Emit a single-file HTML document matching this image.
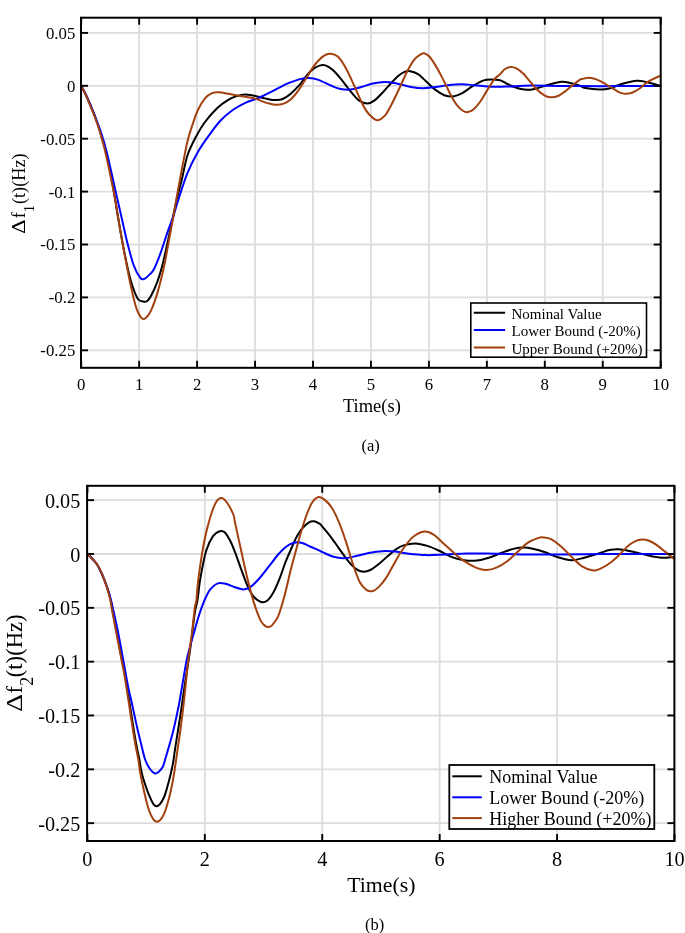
<!DOCTYPE html>
<html><head><meta charset="utf-8"><style>
html,body{margin:0;padding:0;background:#fff;}
body{width:685px;height:933px;overflow:hidden;}
svg{display:block;will-change:transform;font-family:"Liberation Serif",serif;}
text{fill:#000;}
</style></head><body>
<svg width="685" height="933" viewBox="0 0 685 933">
<rect width="685" height="933" fill="#fff"/>
<line x1="139.15" y1="17.70" x2="139.15" y2="367.80" stroke="#dddddd" stroke-width="1.8"/>
<line x1="197.10" y1="17.70" x2="197.10" y2="367.80" stroke="#dddddd" stroke-width="1.8"/>
<line x1="255.05" y1="17.70" x2="255.05" y2="367.80" stroke="#dddddd" stroke-width="1.8"/>
<line x1="313.00" y1="17.70" x2="313.00" y2="367.80" stroke="#dddddd" stroke-width="1.8"/>
<line x1="370.95" y1="17.70" x2="370.95" y2="367.80" stroke="#dddddd" stroke-width="1.8"/>
<line x1="428.90" y1="17.70" x2="428.90" y2="367.80" stroke="#dddddd" stroke-width="1.8"/>
<line x1="486.85" y1="17.70" x2="486.85" y2="367.80" stroke="#dddddd" stroke-width="1.8"/>
<line x1="544.80" y1="17.70" x2="544.80" y2="367.80" stroke="#dddddd" stroke-width="1.8"/>
<line x1="602.75" y1="17.70" x2="602.75" y2="367.80" stroke="#dddddd" stroke-width="1.8"/>
<line x1="81.00" y1="32.90" x2="660.70" y2="32.90" stroke="#dddddd" stroke-width="1.8"/>
<line x1="81.00" y1="85.80" x2="660.70" y2="85.80" stroke="#dddddd" stroke-width="1.8"/>
<line x1="81.00" y1="138.70" x2="660.70" y2="138.70" stroke="#dddddd" stroke-width="1.8"/>
<line x1="81.00" y1="191.60" x2="660.70" y2="191.60" stroke="#dddddd" stroke-width="1.8"/>
<line x1="81.00" y1="244.50" x2="660.70" y2="244.50" stroke="#dddddd" stroke-width="1.8"/>
<line x1="81.00" y1="297.40" x2="660.70" y2="297.40" stroke="#dddddd" stroke-width="1.8"/>
<line x1="81.00" y1="350.30" x2="660.70" y2="350.30" stroke="#dddddd" stroke-width="1.8"/>
<path d="M81.20,85.80 C82.00,87.33 84.37,91.55 86.00,95.00 C87.63,98.45 89.33,102.50 91.00,106.50 C92.67,110.50 94.15,113.67 96.00,119.00 C97.85,124.33 100.18,132.17 102.10,138.50 C104.02,144.83 105.55,148.20 107.50,157.00 C109.45,165.80 112.13,181.80 113.80,191.30 C115.47,200.80 115.77,203.95 117.50,214.00 C119.23,224.05 121.97,240.42 124.20,251.60 C126.43,262.78 128.67,273.28 130.90,281.10 C133.13,288.92 135.58,295.10 137.60,298.50 C139.62,301.90 141.43,301.05 143.00,301.50 C144.57,301.95 145.65,302.15 147.00,301.20 C148.35,300.25 149.35,299.12 151.10,295.80 C152.85,292.48 155.62,286.40 157.50,281.30 C159.38,276.20 160.78,271.37 162.40,265.20 C164.02,259.03 165.60,251.53 167.20,244.30 C168.80,237.07 170.40,229.30 172.00,221.80 C173.60,214.30 175.18,206.27 176.80,199.30 C178.42,192.33 179.92,187.33 181.70,180.00 C183.48,172.67 185.07,162.62 187.50,155.30 C189.93,147.98 193.38,141.65 196.30,136.10 C199.22,130.55 201.50,126.68 205.00,122.00 C208.50,117.32 213.50,111.65 217.30,108.00 C221.10,104.35 224.58,102.08 227.80,100.10 C231.02,98.12 233.68,97.05 236.60,96.10 C239.52,95.15 242.38,94.45 245.30,94.40 C248.22,94.35 250.82,95.13 254.10,95.80 C257.38,96.47 262.35,97.77 265.00,98.40 C267.65,99.03 268.25,99.32 270.00,99.60 C271.75,99.88 273.40,100.20 275.50,100.10 C277.60,100.00 280.07,100.07 282.60,99.00 C285.13,97.93 287.80,96.15 290.70,93.70 C293.60,91.25 297.28,87.38 300.00,84.30 C302.72,81.22 304.78,77.77 307.00,75.20 C309.22,72.63 311.08,70.53 313.30,68.90 C315.52,67.27 318.27,65.98 320.30,65.40 C322.33,64.82 323.45,64.67 325.50,65.40 C327.55,66.13 329.97,67.47 332.60,69.80 C335.23,72.13 338.38,75.90 341.30,79.40 C344.22,82.90 347.18,87.30 350.10,90.80 C353.02,94.30 355.88,98.30 358.80,100.40 C361.72,102.50 364.97,103.40 367.60,103.40 C370.23,103.40 371.97,102.35 374.60,100.40 C377.23,98.45 380.48,94.77 383.40,91.70 C386.32,88.63 389.58,84.67 392.10,82.00 C394.62,79.33 396.52,77.35 398.50,75.70 C400.48,74.05 402.07,72.85 404.00,72.10 C405.93,71.35 407.77,70.85 410.10,71.20 C412.43,71.55 415.22,72.40 418.00,74.20 C420.78,76.00 423.88,79.38 426.80,82.00 C429.72,84.62 432.58,87.70 435.50,89.90 C438.42,92.10 441.37,94.12 444.30,95.20 C447.23,96.28 450.18,96.70 453.10,96.40 C456.02,96.10 458.60,95.07 461.80,93.40 C465.00,91.73 468.78,88.53 472.30,86.40 C475.82,84.27 479.68,81.77 482.90,80.60 C486.12,79.43 488.75,79.45 491.60,79.40 C494.45,79.35 497.68,79.70 500.00,80.30 C502.32,80.90 503.55,82.05 505.50,83.00 C507.45,83.95 509.12,84.98 511.70,86.00 C514.28,87.02 518.08,88.47 521.00,89.10 C523.92,89.73 526.28,90.00 529.20,89.80 C532.12,89.60 535.00,88.83 538.50,87.90 C542.00,86.97 546.30,85.22 550.20,84.20 C554.10,83.18 558.60,82.02 561.90,81.80 C565.20,81.58 566.98,82.27 570.00,82.90 C573.02,83.53 577.65,84.80 580.00,85.60 C582.35,86.40 580.78,87.03 584.10,87.70 C587.42,88.37 595.52,89.52 599.90,89.60 C604.28,89.68 606.80,89.13 610.40,88.20 C614.00,87.27 617.05,85.23 621.50,84.00 C625.95,82.77 632.65,81.05 637.10,80.80 C641.55,80.55 644.30,81.65 648.20,82.50 C652.10,83.35 658.45,85.33 660.50,85.90" fill="none" stroke="#000000" stroke-width="2" stroke-linejoin="round" stroke-linecap="round"/>
<path d="M81.20,85.80 C82.00,87.33 84.37,91.55 86.00,95.00 C87.63,98.45 89.33,102.50 91.00,106.50 C92.67,110.50 94.27,114.48 96.00,119.00 C97.73,123.52 99.60,128.03 101.40,133.60 C103.20,139.17 104.78,144.35 106.80,152.40 C108.82,160.45 111.27,172.07 113.50,181.90 C115.73,191.73 117.97,201.57 120.20,211.40 C122.43,221.23 124.67,231.97 126.90,240.90 C129.13,249.83 131.37,258.83 133.60,265.00 C135.83,271.17 138.52,275.58 140.30,277.90 C142.08,280.22 142.73,279.48 144.30,278.90 C145.87,278.32 148.03,276.13 149.70,274.40 C151.37,272.67 152.45,272.17 154.30,268.50 C156.15,264.83 158.65,258.30 160.80,252.40 C162.95,246.50 165.07,239.27 167.20,233.10 C169.33,226.93 171.72,221.05 173.60,215.40 C175.48,209.75 176.18,206.28 178.50,199.20 C180.82,192.12 184.25,180.80 187.50,172.90 C190.75,165.00 194.50,157.93 198.00,151.80 C201.50,145.67 204.70,141.35 208.50,136.10 C212.30,130.85 216.70,124.68 220.80,120.30 C224.90,115.92 229.02,112.72 233.10,109.80 C237.18,106.88 241.22,104.70 245.30,102.80 C249.38,100.90 254.32,99.72 257.60,98.40 C260.88,97.08 261.82,96.47 265.00,94.90 C268.18,93.33 272.80,90.95 276.70,89.00 C280.60,87.05 284.52,84.85 288.40,83.20 C292.28,81.55 296.57,79.98 300.00,79.10 C303.43,78.22 305.92,77.77 309.00,77.90 C312.08,78.03 314.87,78.63 318.50,79.90 C322.13,81.17 327.28,84.03 330.80,85.50 C334.32,86.97 336.38,88.02 339.60,88.70 C342.82,89.38 346.60,89.83 350.10,89.60 C353.60,89.37 356.80,88.33 360.60,87.30 C364.40,86.27 368.82,84.28 372.90,83.40 C376.98,82.52 381.60,82.08 385.10,82.00 C388.60,81.92 391.50,82.55 393.90,82.90 C396.30,83.25 396.65,83.42 399.50,84.10 C402.35,84.78 407.03,86.32 411.00,87.00 C414.97,87.68 419.22,88.20 423.30,88.20 C427.38,88.20 431.42,87.50 435.50,87.00 C439.58,86.50 443.42,85.65 447.80,85.20 C452.18,84.75 457.42,84.30 461.80,84.30 C466.18,84.30 469.72,84.82 474.10,85.20 C478.48,85.58 484.02,86.33 488.10,86.60 C492.18,86.87 494.95,86.83 498.60,86.80 C502.25,86.77 504.77,86.60 510.00,86.40 C515.23,86.20 521.67,85.68 530.00,85.60 C538.33,85.52 548.33,85.80 560.00,85.90 C571.67,86.00 588.33,86.18 600.00,86.20 C611.67,86.22 619.92,86.03 630.00,86.00 C640.08,85.97 655.42,86.00 660.50,86.00" fill="none" stroke="#0000ff" stroke-width="2" stroke-linejoin="round" stroke-linecap="round"/>
<path d="M81.20,85.80 C82.00,87.42 84.42,92.00 86.00,95.50 C87.58,99.00 89.23,103.22 90.70,106.80 C92.17,110.38 93.45,113.42 94.80,117.00 C96.15,120.58 97.25,123.30 98.80,128.30 C100.35,133.30 102.32,139.85 104.10,147.00 C105.88,154.15 107.70,162.70 109.50,171.20 C111.30,179.70 113.12,188.18 114.90,198.00 C116.68,207.82 118.42,219.83 120.20,230.10 C121.98,240.37 123.82,250.22 125.60,259.60 C127.38,268.98 129.12,278.35 130.90,286.40 C132.68,294.45 134.50,302.62 136.30,307.90 C138.10,313.18 140.13,316.40 141.70,318.10 C143.27,319.80 144.13,319.40 145.70,318.10 C147.27,316.80 149.13,314.55 151.10,310.30 C153.07,306.05 155.35,299.85 157.50,292.60 C159.65,285.35 162.12,275.38 164.00,266.80 C165.88,258.22 167.20,249.67 168.80,241.10 C170.40,232.53 172.18,223.25 173.60,215.40 C175.02,207.55 176.15,200.50 177.30,194.00 C178.45,187.50 178.80,185.18 180.50,176.40 C182.20,167.62 185.45,150.07 187.50,141.30 C189.55,132.53 191.05,129.05 192.80,123.80 C194.55,118.55 195.97,114.03 198.00,109.80 C200.03,105.57 202.67,101.18 205.00,98.40 C207.33,95.62 209.67,94.12 212.00,93.10 C214.33,92.08 216.07,92.15 219.00,92.30 C221.93,92.45 225.50,93.28 229.60,94.00 C233.70,94.72 239.23,95.78 243.60,96.60 C247.97,97.42 252.23,97.93 255.80,98.90 C259.37,99.87 262.47,101.57 265.00,102.40 C267.53,103.23 269.05,103.50 271.00,103.90 C272.95,104.30 274.58,104.85 276.70,104.80 C278.82,104.75 281.37,104.48 283.70,103.60 C286.03,102.72 288.37,101.53 290.70,99.50 C293.03,97.47 295.37,94.52 297.70,91.40 C300.03,88.28 302.88,83.62 304.70,80.80 C306.52,77.98 306.88,77.22 308.60,74.50 C310.32,71.78 312.47,67.62 315.00,64.50 C317.53,61.38 321.17,57.60 323.80,55.80 C326.43,54.00 328.47,53.57 330.80,53.70 C333.13,53.83 335.47,54.50 337.80,56.60 C340.13,58.70 342.47,62.35 344.80,66.30 C347.13,70.25 349.47,75.33 351.80,80.30 C354.13,85.27 356.47,91.13 358.80,96.10 C361.13,101.07 363.45,106.45 365.80,110.10 C368.15,113.75 370.85,116.32 372.90,118.00 C374.95,119.68 376.07,120.65 378.10,120.20 C380.13,119.75 382.95,117.75 385.10,115.30 C387.25,112.85 388.63,109.97 391.00,105.50 C393.37,101.03 396.55,94.30 399.30,88.50 C402.05,82.70 404.97,75.57 407.50,70.70 C410.03,65.83 412.42,61.93 414.50,59.30 C416.58,56.67 418.40,55.90 420.00,54.90 C421.60,53.90 422.55,53.03 424.10,53.30 C425.65,53.57 427.45,54.57 429.30,56.50 C431.15,58.43 433.25,61.75 435.20,64.90 C437.15,68.05 439.15,71.90 441.00,75.40 C442.85,78.90 444.55,82.40 446.30,85.90 C448.05,89.40 449.65,93.10 451.50,96.40 C453.35,99.70 455.45,103.27 457.40,105.70 C459.35,108.13 461.45,109.93 463.20,111.00 C464.95,112.07 466.15,112.40 467.90,112.10 C469.65,111.80 471.57,111.05 473.70,109.20 C475.83,107.35 478.37,104.30 480.70,101.00 C483.03,97.70 485.37,93.08 487.70,89.40 C490.03,85.72 492.65,81.42 494.70,78.90 C496.75,76.38 498.33,75.92 500.00,74.30 C501.67,72.68 502.95,70.43 504.70,69.20 C506.45,67.97 508.55,67.03 510.50,66.90 C512.45,66.77 514.25,67.27 516.40,68.40 C518.55,69.53 521.07,71.45 523.40,73.70 C525.73,75.95 528.07,79.18 530.40,81.90 C532.73,84.62 535.07,87.77 537.40,90.00 C539.73,92.23 542.27,94.10 544.40,95.30 C546.53,96.50 548.07,97.03 550.20,97.20 C552.33,97.37 554.67,97.30 557.20,96.30 C559.73,95.30 562.87,93.02 565.40,91.20 C567.93,89.38 569.97,87.32 572.40,85.40 C574.83,83.48 578.35,80.78 580.00,79.70 C581.65,78.62 580.75,79.23 582.30,78.90 C583.85,78.57 586.95,77.62 589.30,77.70 C591.65,77.78 593.77,78.38 596.40,79.40 C599.03,80.42 602.18,82.18 605.10,83.80 C608.02,85.42 611.42,87.63 613.90,89.10 C616.38,90.57 618.20,91.83 620.00,92.60 C621.80,93.37 622.68,93.67 624.70,93.70 C626.72,93.73 629.62,93.67 632.10,92.80 C634.58,91.93 636.92,90.37 639.60,88.50 C642.28,86.63 644.72,83.75 648.20,81.60 C651.68,79.45 658.45,76.60 660.50,75.60" fill="none" stroke="#a2410f" stroke-width="2" stroke-linejoin="round" stroke-linecap="round"/>
<line x1="81.20" y1="367.80" x2="81.20" y2="360.80" stroke="#000" stroke-width="1.9"/>
<line x1="81.20" y1="17.70" x2="81.20" y2="24.70" stroke="#000" stroke-width="1.9"/>
<line x1="139.15" y1="367.80" x2="139.15" y2="360.80" stroke="#000" stroke-width="1.9"/>
<line x1="139.15" y1="17.70" x2="139.15" y2="24.70" stroke="#000" stroke-width="1.9"/>
<line x1="197.10" y1="367.80" x2="197.10" y2="360.80" stroke="#000" stroke-width="1.9"/>
<line x1="197.10" y1="17.70" x2="197.10" y2="24.70" stroke="#000" stroke-width="1.9"/>
<line x1="255.05" y1="367.80" x2="255.05" y2="360.80" stroke="#000" stroke-width="1.9"/>
<line x1="255.05" y1="17.70" x2="255.05" y2="24.70" stroke="#000" stroke-width="1.9"/>
<line x1="313.00" y1="367.80" x2="313.00" y2="360.80" stroke="#000" stroke-width="1.9"/>
<line x1="313.00" y1="17.70" x2="313.00" y2="24.70" stroke="#000" stroke-width="1.9"/>
<line x1="370.95" y1="367.80" x2="370.95" y2="360.80" stroke="#000" stroke-width="1.9"/>
<line x1="370.95" y1="17.70" x2="370.95" y2="24.70" stroke="#000" stroke-width="1.9"/>
<line x1="428.90" y1="367.80" x2="428.90" y2="360.80" stroke="#000" stroke-width="1.9"/>
<line x1="428.90" y1="17.70" x2="428.90" y2="24.70" stroke="#000" stroke-width="1.9"/>
<line x1="486.85" y1="367.80" x2="486.85" y2="360.80" stroke="#000" stroke-width="1.9"/>
<line x1="486.85" y1="17.70" x2="486.85" y2="24.70" stroke="#000" stroke-width="1.9"/>
<line x1="544.80" y1="367.80" x2="544.80" y2="360.80" stroke="#000" stroke-width="1.9"/>
<line x1="544.80" y1="17.70" x2="544.80" y2="24.70" stroke="#000" stroke-width="1.9"/>
<line x1="602.75" y1="367.80" x2="602.75" y2="360.80" stroke="#000" stroke-width="1.9"/>
<line x1="602.75" y1="17.70" x2="602.75" y2="24.70" stroke="#000" stroke-width="1.9"/>
<line x1="660.70" y1="367.80" x2="660.70" y2="360.80" stroke="#000" stroke-width="1.9"/>
<line x1="660.70" y1="17.70" x2="660.70" y2="24.70" stroke="#000" stroke-width="1.9"/>
<line x1="81.00" y1="32.90" x2="88.00" y2="32.90" stroke="#000" stroke-width="1.9"/>
<line x1="660.70" y1="32.90" x2="653.70" y2="32.90" stroke="#000" stroke-width="1.9"/>
<line x1="81.00" y1="85.80" x2="88.00" y2="85.80" stroke="#000" stroke-width="1.9"/>
<line x1="660.70" y1="85.80" x2="653.70" y2="85.80" stroke="#000" stroke-width="1.9"/>
<line x1="81.00" y1="138.70" x2="88.00" y2="138.70" stroke="#000" stroke-width="1.9"/>
<line x1="660.70" y1="138.70" x2="653.70" y2="138.70" stroke="#000" stroke-width="1.9"/>
<line x1="81.00" y1="191.60" x2="88.00" y2="191.60" stroke="#000" stroke-width="1.9"/>
<line x1="660.70" y1="191.60" x2="653.70" y2="191.60" stroke="#000" stroke-width="1.9"/>
<line x1="81.00" y1="244.50" x2="88.00" y2="244.50" stroke="#000" stroke-width="1.9"/>
<line x1="660.70" y1="244.50" x2="653.70" y2="244.50" stroke="#000" stroke-width="1.9"/>
<line x1="81.00" y1="297.40" x2="88.00" y2="297.40" stroke="#000" stroke-width="1.9"/>
<line x1="660.70" y1="297.40" x2="653.70" y2="297.40" stroke="#000" stroke-width="1.9"/>
<line x1="81.00" y1="350.30" x2="88.00" y2="350.30" stroke="#000" stroke-width="1.9"/>
<line x1="660.70" y1="350.30" x2="653.70" y2="350.30" stroke="#000" stroke-width="1.9"/>
<rect x="81.00" y="17.70" width="579.70" height="350.10" fill="none" stroke="#000" stroke-width="2"/>
<text x="75.30" y="38.80" font-size="16.8" text-anchor="end">0.05</text>
<text x="75.30" y="91.70" font-size="16.8" text-anchor="end">0</text>
<text x="75.30" y="144.60" font-size="16.8" text-anchor="end">-0.05</text>
<text x="75.30" y="197.50" font-size="16.8" text-anchor="end">-0.1</text>
<text x="75.30" y="250.40" font-size="16.8" text-anchor="end">-0.15</text>
<text x="75.30" y="303.30" font-size="16.8" text-anchor="end">-0.2</text>
<text x="75.30" y="356.20" font-size="16.8" text-anchor="end">-0.25</text>
<text x="81.20" y="389.70" font-size="16.8" text-anchor="middle">0</text>
<text x="139.15" y="389.70" font-size="16.8" text-anchor="middle">1</text>
<text x="197.10" y="389.70" font-size="16.8" text-anchor="middle">2</text>
<text x="255.05" y="389.70" font-size="16.8" text-anchor="middle">3</text>
<text x="313.00" y="389.70" font-size="16.8" text-anchor="middle">4</text>
<text x="370.95" y="389.70" font-size="16.8" text-anchor="middle">5</text>
<text x="428.90" y="389.70" font-size="16.8" text-anchor="middle">6</text>
<text x="486.85" y="389.70" font-size="16.8" text-anchor="middle">7</text>
<text x="544.80" y="389.70" font-size="16.8" text-anchor="middle">8</text>
<text x="602.75" y="389.70" font-size="16.8" text-anchor="middle">9</text>
<text x="660.70" y="389.70" font-size="16.8" text-anchor="middle">10</text>
<text x="371.9" y="411.9" font-size="18.5" text-anchor="middle">Time(s)</text>
<g transform="translate(25.2,0) rotate(-90)">
<text transform="translate(-232.80,0) scale(1.1361,1)" x="-0.74" y="0" font-size="19.55">&#916;</text>
<text x="-218.30" y="0" font-size="18.3">f</text>
<text x="-212.30" y="8.5" font-size="14.5">1</text>
<text x="-204.10" y="0" font-size="18.3">(t)(Hz)</text>
</g>
<text x="370.6" y="451.2" font-size="16.5" text-anchor="middle">(a)</text>
<rect x="470.8" y="303" width="175.70" height="54.20" fill="#fff" stroke="#000" stroke-width="1.6"/>
<line x1="473.8" y1="312.8" x2="505.1" y2="312.8" stroke="#000000" stroke-width="2"/>
<text x="511.5" y="319.10" font-size="15">Nominal Value</text>
<line x1="473.8" y1="330" x2="505.1" y2="330" stroke="#0000ff" stroke-width="2"/>
<text x="511.5" y="336.30" font-size="15">Lower Bound (-20%)</text>
<line x1="473.8" y1="347.6" x2="505.1" y2="347.6" stroke="#a2410f" stroke-width="2"/>
<text x="511.5" y="353.90" font-size="15">Upper Bound (+20%)</text>
<line x1="204.82" y1="485.80" x2="204.82" y2="841.00" stroke="#dddddd" stroke-width="1.8"/>
<line x1="322.24" y1="485.80" x2="322.24" y2="841.00" stroke="#dddddd" stroke-width="1.8"/>
<line x1="439.66" y1="485.80" x2="439.66" y2="841.00" stroke="#dddddd" stroke-width="1.8"/>
<line x1="557.08" y1="485.80" x2="557.08" y2="841.00" stroke="#dddddd" stroke-width="1.8"/>
<line x1="87.10" y1="500.17" x2="674.40" y2="500.17" stroke="#dddddd" stroke-width="1.8"/>
<line x1="87.10" y1="554.00" x2="674.40" y2="554.00" stroke="#dddddd" stroke-width="1.8"/>
<line x1="87.10" y1="607.83" x2="674.40" y2="607.83" stroke="#dddddd" stroke-width="1.8"/>
<line x1="87.10" y1="661.66" x2="674.40" y2="661.66" stroke="#dddddd" stroke-width="1.8"/>
<line x1="87.10" y1="715.49" x2="674.40" y2="715.49" stroke="#dddddd" stroke-width="1.8"/>
<line x1="87.10" y1="769.32" x2="674.40" y2="769.32" stroke="#dddddd" stroke-width="1.8"/>
<line x1="87.10" y1="823.15" x2="674.40" y2="823.15" stroke="#dddddd" stroke-width="1.8"/>
<path d="M87.50,554.00 C88.42,554.92 91.25,557.50 93.00,559.50 C94.75,561.50 96.33,563.17 98.00,566.00 C99.67,568.83 101.53,573.08 103.00,576.50 C104.47,579.92 105.52,582.58 106.80,586.50 C108.08,590.42 109.00,592.00 110.70,600.00 C112.40,608.00 115.05,624.17 117.00,634.50 C118.95,644.83 120.90,654.33 122.40,662.00 C123.90,669.67 124.48,671.60 126.00,680.50 C127.52,689.40 129.83,704.98 131.50,715.40 C133.17,725.82 134.67,735.57 136.00,743.00 C137.33,750.43 138.68,755.67 139.50,760.00 C140.32,764.33 140.27,765.87 140.90,769.00 C141.53,772.13 142.03,774.67 143.30,778.80 C144.57,782.93 146.75,789.48 148.50,793.80 C150.25,798.12 152.12,802.77 153.80,804.70 C155.48,806.63 156.92,806.60 158.60,805.40 C160.28,804.20 162.45,800.57 163.90,797.50 C165.35,794.43 166.12,791.12 167.30,787.00 C168.48,782.88 170.00,777.05 171.00,772.80 C172.00,768.55 172.63,765.40 173.30,761.50 C173.97,757.60 173.82,757.13 175.00,749.40 C176.18,741.67 178.65,726.67 180.40,715.10 C182.15,703.53 183.90,690.73 185.50,680.00 C187.10,669.27 188.48,661.70 190.00,650.70 C191.52,639.70 193.35,622.45 194.60,614.00 C195.85,605.55 196.53,606.00 197.50,600.00 C198.47,594.00 198.95,586.22 200.40,578.00 C201.85,569.78 204.10,557.68 206.20,550.70 C208.30,543.72 210.75,539.33 213.00,536.10 C215.25,532.87 217.77,531.93 219.70,531.30 C221.63,530.67 222.83,530.68 224.60,532.30 C226.37,533.92 228.57,537.70 230.30,541.00 C232.03,544.30 233.18,547.38 235.00,552.10 C236.82,556.82 239.15,563.75 241.20,569.30 C243.25,574.85 245.25,580.87 247.30,585.40 C249.35,589.93 251.23,593.73 253.50,596.50 C255.77,599.27 258.63,601.28 260.90,602.00 C263.17,602.72 265.05,602.33 267.10,600.80 C269.15,599.27 271.15,596.40 273.20,592.80 C275.25,589.20 277.33,584.35 279.40,579.20 C281.47,574.05 283.53,567.18 285.60,561.90 C287.67,556.62 290.05,551.50 291.80,547.50 C293.55,543.50 294.50,540.93 296.10,537.90 C297.70,534.87 299.25,531.90 301.40,529.30 C303.55,526.70 306.85,523.63 309.00,522.30 C311.15,520.97 312.47,521.02 314.30,521.30 C316.13,521.58 318.83,523.33 320.00,524.00 C321.17,524.67 319.63,523.33 321.30,525.30 C322.97,527.27 327.08,532.00 330.00,535.80 C332.92,539.60 335.87,544.02 338.80,548.10 C341.73,552.18 344.68,556.80 347.60,560.30 C350.52,563.80 353.68,567.20 356.30,569.10 C358.92,571.00 360.97,571.55 363.30,571.70 C365.63,571.85 367.67,571.32 370.30,570.00 C372.93,568.68 376.17,566.13 379.10,563.80 C382.03,561.47 384.98,558.48 387.90,556.00 C390.82,553.52 393.98,550.67 396.60,548.90 C399.22,547.13 400.50,546.32 403.60,545.40 C406.70,544.48 411.22,543.32 415.20,543.40 C419.18,543.48 423.42,544.63 427.50,545.90 C431.58,547.17 435.62,549.13 439.70,551.00 C443.78,552.87 447.90,555.57 452.00,557.10 C456.10,558.63 460.22,559.62 464.30,560.20 C468.38,560.78 472.42,561.02 476.50,560.60 C480.58,560.18 484.70,558.97 488.80,557.70 C492.90,556.43 497.02,554.47 501.10,553.00 C505.18,551.53 509.57,549.82 513.30,548.90 C517.03,547.98 520.08,547.50 523.50,547.50 C526.92,547.50 530.20,548.12 533.80,548.90 C537.40,549.68 541.15,550.83 545.10,552.20 C549.05,553.57 553.05,555.77 557.50,557.10 C561.95,558.43 567.38,560.10 571.80,560.20 C576.22,560.30 579.30,558.90 584.00,557.70 C588.70,556.50 595.78,554.27 600.00,553.00 C604.22,551.73 606.18,550.72 609.30,550.10 C612.42,549.48 615.38,549.17 618.70,549.30 C622.02,549.43 625.50,550.18 629.20,550.90 C632.90,551.62 637.00,552.67 640.90,553.60 C644.80,554.53 649.10,555.82 652.60,556.50 C656.10,557.18 658.33,557.62 661.90,557.70 C665.47,557.78 671.98,557.12 674.00,557.00" fill="none" stroke="#000000" stroke-width="2" stroke-linejoin="round" stroke-linecap="round"/>
<path d="M87.50,554.00 C88.42,554.92 91.25,557.50 93.00,559.50 C94.75,561.50 96.33,563.17 98.00,566.00 C99.67,568.83 101.53,573.08 103.00,576.50 C104.47,579.92 105.50,582.67 106.80,586.50 C108.10,590.33 109.00,592.25 110.80,599.50 C112.60,606.75 115.47,619.60 117.60,630.00 C119.73,640.40 121.80,652.23 123.60,661.90 C125.40,671.57 127.13,681.65 128.40,688.00 C129.67,694.35 130.18,695.42 131.20,700.00 C132.22,704.58 133.42,710.50 134.50,715.50 C135.58,720.50 136.62,725.33 137.70,730.00 C138.78,734.67 139.73,738.50 141.00,743.50 C142.27,748.50 143.80,755.75 145.30,760.00 C146.80,764.25 148.40,766.75 150.00,769.00 C151.60,771.25 153.40,773.07 154.90,773.50 C156.40,773.93 157.68,772.72 159.00,771.60 C160.32,770.48 161.80,768.73 162.80,766.80 C163.80,764.87 164.22,762.55 165.00,760.00 C165.78,757.45 166.18,756.13 167.50,751.50 C168.82,746.87 171.40,738.03 172.90,732.20 C174.40,726.37 175.35,721.87 176.50,716.50 C177.65,711.13 178.17,709.10 179.80,700.00 C181.43,690.90 184.52,671.07 186.30,661.90 C188.08,652.73 189.17,650.07 190.50,645.00 C191.83,639.93 193.05,635.92 194.30,631.50 C195.55,627.08 196.65,622.85 198.00,618.50 C199.35,614.15 201.03,609.07 202.40,605.40 C203.77,601.73 204.92,599.13 206.20,596.50 C207.48,593.87 208.17,591.78 210.10,589.60 C212.03,587.42 215.23,584.37 217.80,583.40 C220.37,582.43 222.63,583.17 225.50,583.80 C228.37,584.43 232.58,586.37 235.00,587.20 C237.42,588.03 238.35,588.45 240.00,588.80 C241.65,589.15 243.07,589.67 244.90,589.30 C246.73,588.93 248.53,588.48 251.00,586.60 C253.47,584.72 256.62,581.50 259.70,578.00 C262.78,574.50 266.42,569.52 269.50,565.60 C272.58,561.68 275.38,557.68 278.20,554.50 C281.02,551.32 283.78,548.47 286.40,546.50 C289.02,544.53 291.40,543.33 293.90,542.70 C296.40,542.07 298.72,542.07 301.40,542.70 C304.08,543.33 306.90,545.15 310.00,546.50 C313.10,547.85 317.83,549.82 320.00,550.80 C322.17,551.78 320.75,551.40 323.00,552.40 C325.25,553.40 330.00,555.83 333.50,556.80 C337.00,557.77 340.20,558.33 344.00,558.20 C347.80,558.07 352.20,556.87 356.30,556.00 C360.40,555.13 364.22,553.80 368.60,553.00 C372.98,552.20 378.22,551.43 382.60,551.20 C386.98,550.97 391.10,551.25 394.90,551.60 C398.70,551.95 400.32,552.72 405.40,553.30 C410.48,553.88 418.65,554.90 425.40,555.10 C432.15,555.30 439.08,554.75 445.90,554.50 C452.72,554.25 459.50,553.75 466.30,553.60 C473.10,553.45 479.88,553.53 486.70,553.60 C493.52,553.67 500.38,553.85 507.20,554.00 C514.02,554.15 518.80,554.42 527.60,554.50 C536.40,554.58 547.93,554.58 560.00,554.50 C572.07,554.42 586.67,554.08 600.00,554.00 C613.33,553.92 627.67,554.00 640.00,554.00 C652.33,554.00 668.33,554.00 674.00,554.00" fill="none" stroke="#0000ff" stroke-width="2" stroke-linejoin="round" stroke-linecap="round"/>
<path d="M87.50,554.00 C88.33,554.83 90.77,557.05 92.50,559.00 C94.23,560.95 96.15,562.78 97.90,565.70 C99.65,568.62 101.55,573.03 103.00,576.50 C104.45,579.97 105.38,582.58 106.60,586.50 C107.82,590.42 109.47,596.47 110.30,600.00 C111.13,603.53 110.55,602.03 111.60,607.70 C112.65,613.37 114.88,625.00 116.60,634.00 C118.32,643.00 120.45,654.03 121.90,661.70 C123.35,669.37 123.83,671.05 125.30,680.00 C126.77,688.95 129.08,704.98 130.70,715.40 C132.32,725.82 133.72,735.07 135.00,742.50 C136.28,749.93 137.63,755.58 138.40,760.00 C139.17,764.42 139.03,765.50 139.60,769.00 C140.17,772.50 140.43,774.75 141.80,781.00 C143.17,787.25 145.87,800.12 147.80,806.50 C149.73,812.88 151.60,816.85 153.40,819.30 C155.20,821.75 156.78,822.20 158.60,821.20 C160.42,820.20 162.60,817.00 164.30,813.30 C166.00,809.60 167.43,804.13 168.80,799.00 C170.17,793.87 171.50,787.50 172.50,782.50 C173.50,777.50 173.97,774.42 174.80,769.00 C175.63,763.58 176.57,756.48 177.50,750.00 C178.43,743.52 179.30,738.43 180.40,730.10 C181.50,721.77 182.82,711.37 184.10,700.00 C185.38,688.63 186.77,673.22 188.10,661.90 C189.43,650.58 190.98,641.13 192.10,632.10 C193.22,623.07 194.08,613.05 194.80,607.70 C195.52,602.35 195.78,604.95 196.40,600.00 C197.02,595.05 197.18,587.83 198.50,578.00 C199.82,568.17 202.37,551.03 204.30,541.00 C206.23,530.97 208.17,524.23 210.10,517.80 C212.03,511.37 213.97,505.68 215.90,502.40 C217.83,499.12 219.78,497.95 221.70,498.10 C223.62,498.25 225.43,500.48 227.40,503.30 C229.37,506.12 232.23,511.80 233.50,515.00 C234.77,518.20 233.72,516.53 235.00,522.50 C236.28,528.47 239.15,541.55 241.20,550.80 C243.25,560.05 245.25,569.57 247.30,578.00 C249.35,586.43 251.43,594.62 253.50,601.40 C255.57,608.18 258.03,614.85 259.70,618.70 C261.37,622.55 262.17,623.12 263.50,624.50 C264.83,625.88 266.28,626.85 267.70,627.00 C269.12,627.15 270.25,627.20 272.00,625.40 C273.75,623.60 276.15,621.02 278.20,616.20 C280.25,611.38 282.22,604.18 284.30,596.50 C286.38,588.82 288.92,577.18 290.70,570.10 C292.48,563.02 293.65,559.02 295.00,554.00 C296.35,548.98 297.55,544.47 298.80,540.00 C300.05,535.53 301.17,531.48 302.50,527.20 C303.83,522.92 305.18,518.42 306.80,514.30 C308.42,510.18 310.23,505.37 312.20,502.50 C314.17,499.63 316.50,497.53 318.60,497.10 C320.70,496.67 322.60,498.12 324.80,499.90 C327.00,501.68 329.47,504.15 331.80,507.80 C334.13,511.45 336.47,516.25 338.80,521.80 C341.13,527.35 343.47,534.10 345.80,541.10 C348.13,548.10 350.47,556.95 352.80,563.80 C355.13,570.65 357.47,577.82 359.80,582.20 C362.13,586.58 364.60,588.63 366.80,590.10 C369.00,591.57 370.95,591.58 373.00,591.00 C375.05,590.42 376.92,588.78 379.10,586.60 C381.28,584.42 383.77,581.40 386.10,577.90 C388.43,574.40 390.77,569.70 393.10,565.60 C395.43,561.50 397.95,556.73 400.10,553.30 C402.25,549.87 403.82,547.77 406.00,545.00 C408.18,542.23 410.13,538.93 413.20,536.70 C416.27,534.47 421.00,531.95 424.40,531.60 C427.80,531.25 430.37,532.57 433.60,534.60 C436.83,536.63 440.40,540.73 443.80,543.80 C447.20,546.87 450.58,550.10 454.00,553.00 C457.42,555.90 460.55,558.72 464.30,561.20 C468.05,563.68 472.77,566.43 476.50,567.90 C480.23,569.37 483.28,570.10 486.70,570.00 C490.12,569.90 493.58,568.77 497.00,567.30 C500.42,565.83 503.80,563.75 507.20,561.20 C510.60,558.65 514.00,555.07 517.40,552.00 C520.80,548.93 524.20,545.12 527.60,542.80 C531.00,540.48 535.15,539.00 537.80,538.10 C540.45,537.20 541.23,537.20 543.50,537.40 C545.77,537.60 548.38,537.72 551.40,539.30 C554.42,540.88 558.20,543.93 561.60,546.90 C565.00,549.87 568.40,553.87 571.80,557.10 C575.20,560.33 578.43,564.08 582.00,566.30 C585.57,568.52 590.20,569.98 593.20,570.40 C596.20,570.82 597.32,569.95 600.00,568.80 C602.68,567.65 606.18,565.73 609.30,563.50 C612.42,561.27 615.58,558.32 618.70,555.40 C621.82,552.48 625.28,548.35 628.00,546.00 C630.72,543.65 632.67,542.37 635.00,541.30 C637.33,540.23 639.67,539.68 642.00,539.60 C644.33,539.52 646.47,539.83 649.00,540.80 C651.53,541.77 654.47,543.55 657.20,545.40 C659.93,547.25 662.57,549.65 665.40,551.90 C668.23,554.15 672.73,557.73 674.20,558.90" fill="none" stroke="#a2410f" stroke-width="2" stroke-linejoin="round" stroke-linecap="round"/>
<line x1="87.40" y1="841.00" x2="87.40" y2="834.00" stroke="#000" stroke-width="1.9"/>
<line x1="87.40" y1="485.80" x2="87.40" y2="492.80" stroke="#000" stroke-width="1.9"/>
<line x1="204.82" y1="841.00" x2="204.82" y2="834.00" stroke="#000" stroke-width="1.9"/>
<line x1="204.82" y1="485.80" x2="204.82" y2="492.80" stroke="#000" stroke-width="1.9"/>
<line x1="322.24" y1="841.00" x2="322.24" y2="834.00" stroke="#000" stroke-width="1.9"/>
<line x1="322.24" y1="485.80" x2="322.24" y2="492.80" stroke="#000" stroke-width="1.9"/>
<line x1="439.66" y1="841.00" x2="439.66" y2="834.00" stroke="#000" stroke-width="1.9"/>
<line x1="439.66" y1="485.80" x2="439.66" y2="492.80" stroke="#000" stroke-width="1.9"/>
<line x1="557.08" y1="841.00" x2="557.08" y2="834.00" stroke="#000" stroke-width="1.9"/>
<line x1="557.08" y1="485.80" x2="557.08" y2="492.80" stroke="#000" stroke-width="1.9"/>
<line x1="674.50" y1="841.00" x2="674.50" y2="834.00" stroke="#000" stroke-width="1.9"/>
<line x1="674.50" y1="485.80" x2="674.50" y2="492.80" stroke="#000" stroke-width="1.9"/>
<line x1="87.10" y1="500.17" x2="94.10" y2="500.17" stroke="#000" stroke-width="1.9"/>
<line x1="674.40" y1="500.17" x2="667.40" y2="500.17" stroke="#000" stroke-width="1.9"/>
<line x1="87.10" y1="554.00" x2="94.10" y2="554.00" stroke="#000" stroke-width="1.9"/>
<line x1="674.40" y1="554.00" x2="667.40" y2="554.00" stroke="#000" stroke-width="1.9"/>
<line x1="87.10" y1="607.83" x2="94.10" y2="607.83" stroke="#000" stroke-width="1.9"/>
<line x1="674.40" y1="607.83" x2="667.40" y2="607.83" stroke="#000" stroke-width="1.9"/>
<line x1="87.10" y1="661.66" x2="94.10" y2="661.66" stroke="#000" stroke-width="1.9"/>
<line x1="674.40" y1="661.66" x2="667.40" y2="661.66" stroke="#000" stroke-width="1.9"/>
<line x1="87.10" y1="715.49" x2="94.10" y2="715.49" stroke="#000" stroke-width="1.9"/>
<line x1="674.40" y1="715.49" x2="667.40" y2="715.49" stroke="#000" stroke-width="1.9"/>
<line x1="87.10" y1="769.32" x2="94.10" y2="769.32" stroke="#000" stroke-width="1.9"/>
<line x1="674.40" y1="769.32" x2="667.40" y2="769.32" stroke="#000" stroke-width="1.9"/>
<line x1="87.10" y1="823.15" x2="94.10" y2="823.15" stroke="#000" stroke-width="1.9"/>
<line x1="674.40" y1="823.15" x2="667.40" y2="823.15" stroke="#000" stroke-width="1.9"/>
<rect x="87.10" y="485.80" width="587.30" height="355.20" fill="none" stroke="#000" stroke-width="2"/>
<text x="80.30" y="507.67" font-size="20.2" text-anchor="end">0.05</text>
<text x="80.30" y="561.50" font-size="20.2" text-anchor="end">0</text>
<text x="80.30" y="615.33" font-size="20.2" text-anchor="end">-0.05</text>
<text x="80.30" y="669.16" font-size="20.2" text-anchor="end">-0.1</text>
<text x="80.30" y="722.99" font-size="20.2" text-anchor="end">-0.15</text>
<text x="80.30" y="776.82" font-size="20.2" text-anchor="end">-0.2</text>
<text x="80.30" y="830.65" font-size="20.2" text-anchor="end">-0.25</text>
<text x="87.40" y="866.40" font-size="20.2" text-anchor="middle">0</text>
<text x="204.82" y="866.40" font-size="20.2" text-anchor="middle">2</text>
<text x="322.24" y="866.40" font-size="20.2" text-anchor="middle">4</text>
<text x="439.66" y="866.40" font-size="20.2" text-anchor="middle">6</text>
<text x="557.08" y="866.40" font-size="20.2" text-anchor="middle">8</text>
<text x="674.50" y="866.40" font-size="20.2" text-anchor="middle">10</text>
<text x="381.3" y="892.4" font-size="21.8" text-anchor="middle">Time(s)</text>
<g transform="translate(21.7,0) rotate(-90)">
<text transform="translate(-710.80,0) scale(1.1632,1)" x="-0.91" y="0" font-size="23.79">&#916;</text>
<text x="-693.60" y="0" font-size="22.6">f</text>
<text x="-685.80" y="11.3" font-size="18">2</text>
<text x="-677.20" y="0" font-size="22.6">(t)(Hz)</text>
</g>
<text x="374.7" y="930" font-size="16.5" text-anchor="middle">(b)</text>
<rect x="449.3" y="765" width="205.00" height="64.00" fill="#fff" stroke="#000" stroke-width="1.8"/>
<line x1="452.3" y1="776.3" x2="481.8" y2="776.3" stroke="#000000" stroke-width="2"/>
<text x="489.3" y="783.00" font-size="18">Nominal Value</text>
<line x1="452.3" y1="797.3" x2="481.8" y2="797.3" stroke="#0000ff" stroke-width="2"/>
<text x="489.3" y="804.00" font-size="18">Lower Bound (-20%)</text>
<line x1="452.3" y1="818.1" x2="481.8" y2="818.1" stroke="#a2410f" stroke-width="2"/>
<text x="489.3" y="824.80" font-size="18">Higher Bound (+20%)</text>
</svg>
</body></html>
